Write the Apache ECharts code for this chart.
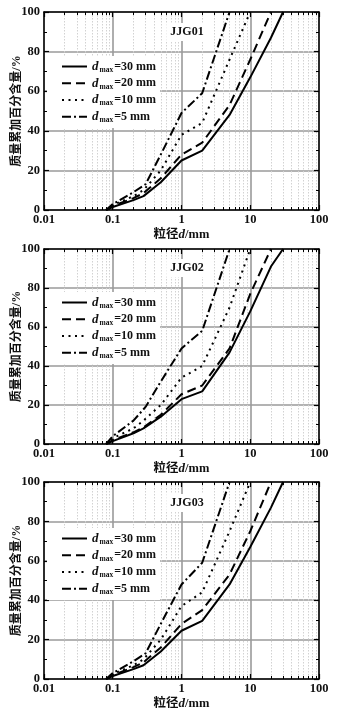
<!DOCTYPE html>
<html><head><meta charset="utf-8">
<script src="https://cdn.jsdelivr.net/npm/echarts@6/dist/echarts.min.js"></script>
<style>html,body{margin:0;padding:0;background:#fff}#c{width:346px;height:717px}</style>
</head><body><div id="c"></div>
<script>
// ---- data ----
const panelNames = ['JJG01', 'JJG02', 'JJG03'];
const dmaxValues = ['30', '20', '10', '5'];
const xTicks = [0.01, 0.1, 1, 10, 100];
const yTicks = [0, 20, 40, 60, 80, 100];

// JJG01
const p1_d30_x = [0.08, 0.1, 0.2, 0.28, 0.5, 1, 2, 5, 10, 20, 30];
const p1_d30_y = [0, 1.5, 5, 7, 14, 25, 30, 48, 67, 87, 100];
const p1_d20_x = [0.08, 0.1, 0.2, 0.28, 0.5, 1, 2, 5, 10, 20];
const p1_d20_y = [0, 2, 6, 8.5, 16, 28, 34, 53, 76, 100];
const p1_d10_x = [0.08, 0.1, 0.2, 0.28, 0.5, 1, 2, 5, 10];
const p1_d10_y = [0, 2.5, 7, 10, 20, 38, 44, 76, 100];
const p1_d5_x = [0.08, 0.1, 0.2, 0.3, 0.5, 1, 2, 5];
const p1_d5_y = [0, 3, 9, 13, 28, 49, 59, 100];
// JJG02
const p2_d30_x = [0.08, 0.1, 0.2, 0.28, 0.5, 1, 2, 5, 10, 20, 30];
const p2_d30_y = [0, 1.5, 5.5, 8, 14, 23, 27, 47, 68, 91, 100];
const p2_d20_x = [0.08, 0.1, 0.2, 0.28, 0.5, 1, 2, 5, 10, 20];
const p2_d20_y = [0, 2, 6, 8.5, 15, 25.5, 30, 49, 77, 100];
const p2_d10_x = [0.08, 0.1, 0.2, 0.28, 0.5, 1, 2, 5, 10];
const p2_d10_y = [0, 3, 8, 12, 20, 34, 40, 70, 100];
const p2_d5_x = [0.08, 0.1, 0.2, 0.3, 0.5, 1, 2, 5];
const p2_d5_y = [0, 4, 12, 19, 32, 49, 58, 100];
// JJG03
const p3_d30_x = [0.08, 0.1, 0.2, 0.28, 0.5, 1, 2, 5, 10, 20, 30];
const p3_d30_y = [0, 1.5, 5, 7, 14, 24.5, 29.5, 48, 67, 87, 100];
const p3_d20_x = [0.08, 0.1, 0.2, 0.28, 0.5, 1, 2, 5, 10, 20];
const p3_d20_y = [0, 2, 6, 8.5, 16, 28, 35, 53, 75, 100];
const p3_d10_x = [0.08, 0.1, 0.2, 0.28, 0.5, 1, 2, 5, 10];
const p3_d10_y = [0, 2.5, 7, 10, 20, 37, 44, 75, 100];
const p3_d5_x = [0.08, 0.1, 0.2, 0.3, 0.5, 1, 2, 5];
const p3_d5_y = [0, 3, 9, 13, 28, 48, 59, 100];

const panels = [
  [[p1_d30_x, p1_d30_y], [p1_d20_x, p1_d20_y], [p1_d10_x, p1_d10_y], [p1_d5_x, p1_d5_y]],
  [[p2_d30_x, p2_d30_y], [p2_d20_x, p2_d20_y], [p2_d10_x, p2_d10_y], [p2_d5_x, p2_d5_y]],
  [[p3_d30_x, p3_d30_y], [p3_d20_x, p3_d20_y], [p3_d10_x, p3_d10_y], [p3_d5_x, p3_d5_y]]
];

// ---- styling / layout ----
const SERIF = "'Liberation Serif','Noto Sans CJK SC',serif";
const gridBoxes = [{ top: 12, height: 198 }, { top: 249, height: 195 }, { top: 482, height: 197 }];
const GL = 44, GW = 275;
const dashTypes = ['solid', [9, 5], [2, 4.5], [9, 3, 2, 3]];
const legendOffsets = [44, 43, 46];
const titleOffsets = [11, 10, 12];

const grid = [], xAxis = [], yAxis = [], series = [], legend = [], title = [];

gridBoxes.forEach((g, i) => {
  grid.push({ left: GL, width: GW, top: g.top, height: g.height, containLabel: false, outerBoundsMode: 'none' });
  const common = {
    gridIndex: i, type: 'log', logBase: 10, min: xTicks[0], max: xTicks[xTicks.length - 1],
    axisLine: { show: true, onZero: false, lineStyle: { color: '#000', width: 1.5 } },
    axisTick: { show: true, inside: true, length: 5, lineStyle: { color: '#000', width: 1.2 } },
    minorTick: { show: true, splitNumber: 9, length: 3, lineStyle: { color: '#000', width: 1 } }
  };
  xAxis.push(Object.assign({}, common, {
    position: 'bottom',
    splitLine: { show: true, lineStyle: { color: '#9a9a9a', width: 1.6 } },
    minorSplitLine: { show: true, lineStyle: { color: '#d2d2d2', width: 1, type: [1.5, 1.5] } },
    axisLabel: { show: true, fontFamily: SERIF, fontWeight: 'bold', fontSize: 12.5, color: '#111', margin: 4,
      formatter: v => String(v) },
    name: '{c|粒径}{i|d}{c|/mm}', nameLocation: 'middle', nameGap: 18, nameMoveOverlap: false,
    nameTextStyle: { rich: {
      c: { fontFamily: SERIF, fontWeight: 'bold', fontSize: 12.5, color: '#111' },
      i: { fontFamily: SERIF, fontWeight: 'bold', fontStyle: 'italic', fontSize: 13, color: '#111' }
    } }
  }));
  xAxis.push(Object.assign({}, common, {
    position: 'top', splitLine: { show: false }, minorSplitLine: { show: false }, axisLabel: { show: false }
  }));
  const ycommon = {
    gridIndex: i, type: 'value', min: yTicks[0], max: yTicks[yTicks.length - 1], interval: 20,
    axisLine: { show: true, onZero: false, lineStyle: { color: '#000', width: 1.5 } },
    axisTick: { show: true, inside: true, length: 5, lineStyle: { color: '#000', width: 1.2 } },
    minorTick: { show: true, splitNumber: 2, length: 3, lineStyle: { color: '#000', width: 1 } }
  };
  yAxis.push(Object.assign({}, ycommon, {
    position: 'left',
    splitLine: { show: true, lineStyle: { color: '#9a9a9a', width: 1.6 } },
    axisLabel: { show: true, fontFamily: SERIF, fontWeight: 'bold', fontSize: 12.5, color: '#111', margin: 4 },
    name: '质量累加百分含量/%', nameLocation: 'middle', nameGap: 21, nameMoveOverlap: false,
    nameTextStyle: { fontFamily: SERIF, fontWeight: 'bold', fontSize: 12, color: '#111' }
  }));
  yAxis.push(Object.assign({}, ycommon, {
    position: 'right', splitLine: { show: false }, axisLabel: { show: false }
  }));

  panels[i].forEach((xy, k) => {
    series.push({
      type: 'line', name: dmaxValues[k], xAxisIndex: 2 * i, yAxisIndex: 2 * i,
      data: xy[0].map((x, j) => [x, xy[1][j]]),
      showSymbol: false, symbol: 'none', silent: true, z: 5,
      color: '#000',
      lineStyle: { color: '#000', width: 2, type: dashTypes[k] }
    });
  });

  legend.push({
    show: true, data: dmaxValues.slice(), orient: 'vertical', left: 47, top: g.top + legendOffsets[i],
    backgroundColor: '#fff', padding: [4, 4, 4, 14], itemGap: 3, itemWidth: 25, itemHeight: 14,
    selectedMode: false,
    lineStyle: { width: 2 },
    itemStyle: { color: 'rgba(0,0,0,0)', borderWidth: 0, opacity: 0 },
    formatter: n => '{i|d}{s|max}{t|=' + n + ' mm}',
    textStyle: { rich: {
      i: { fontFamily: SERIF, fontWeight: 'bold', fontStyle: 'italic', fontSize: 13, color: '#111' },
      s: { fontFamily: SERIF, fontWeight: 'bold', fontSize: 7.5, color: '#111', padding: [7, 1, 0, 1] },
      t: { fontFamily: SERIF, fontWeight: 'bold', fontSize: 12, color: '#111' }
    } }
  });

  title.push({
    text: panelNames[i], left: 183, top: g.top + titleOffsets[i], textAlign: 'center',
    backgroundColor: '#fff', padding: [3, 4],
    textStyle: { fontFamily: SERIF, fontWeight: 'bold', fontSize: 12, color: '#111' }
  });
});

const chart = echarts.init(document.getElementById('c'), null, { renderer: 'canvas' });
chart.setOption({ animation: false, backgroundColor: '#fff', grid, xAxis, yAxis, series, legend, title });
</script>
</body></html>
